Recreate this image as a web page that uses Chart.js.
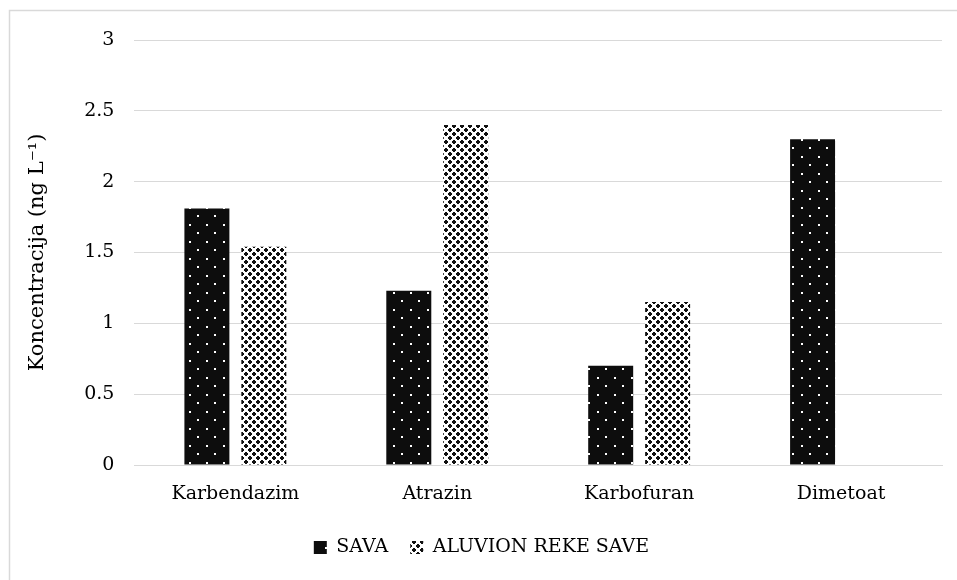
<!DOCTYPE html>
<html>
<head>
<meta charset="utf-8">
<script src="https://cdn.jsdelivr.net/npm/chart.js@4/dist/chart.umd.min.js"></script>
<style>
    body { margin: 0; background: #fff; }
    #wrap { width: 957px; height: 580px; }
</style>
</head>
<body>
<div id="wrap"><canvas id="canvas" width="957" height="580"></canvas></div>
<script>
const categories = ['Karbendazim', 'Atrazin', 'Karbofuran', 'Dimetoat'];
const savaValues = [1.81, 1.23, 0.70, 2.30];
const aluvionValues = [1.54, 2.40, 1.15, 0];
const seriesNames = ['SAVA', 'ALUVION REKE SAVE'];
const yTitle = 'Koncentracija (ng L\u207B\u00B9)';

const FONT = "'DejaVu Serif', 'Liberation Serif', serif";

// black with staggered white dots
function dotPattern() {
    var c = document.createElement('canvas');
    c.width = 17; c.height = 17;
    var g = c.getContext('2d');
    g.fillStyle = '#0d0d0d';
    g.fillRect(0, 0, 17, 17);
    g.fillStyle = '#ffffff';
    g.fillRect(2, 3, 2, 2);
    g.fillRect(10, 11, 2, 2);
    return g.createPattern(c, 'repeat');
}

// dense checker / cross pattern
function checkPattern() {
    var c = document.createElement('canvas');
    c.width = 8; c.height = 8;
    var g = c.getContext('2d');
    g.fillStyle = '#ffffff';
    g.fillRect(0, 0, 8, 8);
    g.fillStyle = '#111111';
    // two plus shapes per tile
    g.fillRect(1, 0, 2, 4);
    g.fillRect(0, 1, 4, 2);
    g.fillRect(5, 4, 2, 4);
    g.fillRect(4, 5, 4, 2);
    return g.createPattern(c, 'repeat');
}

const frame = {
    id: 'frame',
    beforeDraw(chart) {
        var ctx = chart.ctx;
        ctx.save();
        ctx.fillStyle = '#fff';
        ctx.fillRect(0, 0, chart.width, chart.height);
        ctx.strokeStyle = '#d9d9d9';
        ctx.lineWidth = 1.5;
        ctx.strokeRect(9.5, 10.5, chart.width + 10, chart.height + 10);
        ctx.restore();
    }
};

var ctx = document.getElementById('canvas').getContext('2d');
var chart = new Chart(ctx, {
    type: 'bar',
    data: {
        labels: categories,
        datasets: [{
            label: seriesNames[0],
            data: savaValues,
            backgroundColor: dotPattern(),
            borderWidth: 0,
        }, {
            label: seriesNames[1],
            data: aluvionValues,
            backgroundColor: checkPattern(),
            borderWidth: 0,
        }]
    },
    options: {
        responsive: false,
        animation: false,
        categoryPercentage: 0.564,
        barPercentage: 0.79,
        layout: { padding: { left: 21, right: 15, top: 40, bottom: 13 } },
        plugins: {
            tooltip: { enabled: false },
            legend: {
                position: 'bottom',
                labels: {
                    font: { family: FONT, size: 19 },
                    color: '#000',
                    boxWidth: 13,
                    boxHeight: 13,
                    padding: 22,
                }
            }
        },
        scales: {
            x: {
                grid: { display: false },
                border: { color: '#d9d9d9' },
                ticks: { color: '#000', font: { family: FONT, size: 19, lineHeight: 1 }, padding: 12 },
            },
            y: {
                min: 0,
                max: 3,
                ticks: {
                    stepSize: 0.5,
                    color: '#000',
                    font: { family: FONT, size: 19 },
                    padding: 20,
                    callback: (v) => String(v),
                },
                grid: { color: '#d9d9d9', drawTicks: false },
                border: { display: false },
                title: {
                    display: true,
                    text: yTitle,
                    color: '#000',
                    font: { family: FONT, size: 21 },
                    padding: { bottom: 14 },
                }
            }
        }
    },
    plugins: [frame]
});
</script>
</body>
</html>
